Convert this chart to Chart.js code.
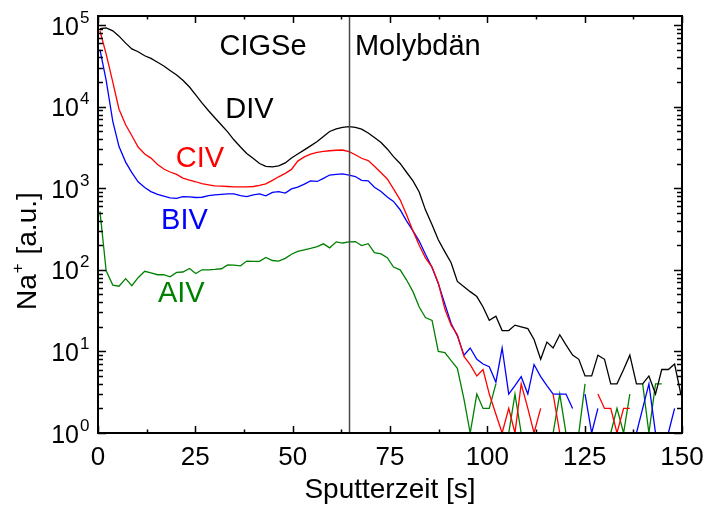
<!DOCTYPE html>
<html lang="de">
<head>
<meta charset="UTF-8">
<title>Na+ Tiefenprofil</title>
<script src="https://cdn.jsdelivr.net/npm/chart.js"></script>
<style>
  html, body { margin: 0; padding: 0; background: #fff; }
  #wrap { width: 705px; height: 508px; }
</style>
</head>
<body>
<div id="wrap"><canvas id="profil" width="705" height="508"></canvas></div>
<script>
// Sputterzeit [s]
const zeit = [0.5, 2.1, 3.8, 5.4, 7.1, 8.7, 10.3, 12.0, 13.6, 15.3,
  16.9, 18.5, 20.2, 21.8, 23.5, 25.1, 26.7, 28.4, 30.0, 31.7,
  33.3, 34.9, 36.6, 38.2, 39.9, 41.5, 43.1, 44.8, 46.4, 48.1,
  49.7, 51.3, 53.0, 54.6, 56.3, 57.9, 59.5, 61.2, 62.8, 64.5,
  66.1, 67.7, 69.4, 71.0, 72.7, 74.3, 75.9, 77.6, 79.2, 80.9,
  82.5, 84.1, 85.8, 87.4, 89.1, 90.7, 92.3, 94.0, 95.6, 97.3,
  98.9, 100.5, 102.2, 103.8, 105.5, 107.1, 108.7, 110.4, 112.0, 113.7,
  115.3, 116.9, 118.6, 120.2, 121.9, 123.5, 125.1, 126.8, 128.4, 130.1,
  131.7, 133.3, 135.0, 136.6, 138.3, 139.9, 141.5, 143.2, 144.8, 146.5,
  148.1, 149.7];

// Na+ Signal [a.u.], null = kein Signal (log)
const DIV = [90000, 92000, 85000, 73000, 60000, 51000, 47000, 42000, 39000, 35000,
  31500, 27700, 24400, 21000, 17400, 13900, 11100, 8900, 7300, 5960,
  4900, 3920, 3200, 2670, 2320, 2010, 1850, 1830, 1880, 2040,
  2350, 2630, 2950, 3300, 3740, 4310, 4960, 5330, 5560, 5700,
  5560, 5300, 4760, 4190, 3640, 3030, 2440, 2010, 1580, 1230,
  900, 543, 356, 233, 166, 122, 72, 62, 54, 47,
  35, 24, 27, 18, 18, 21, 20, 19, 14, 8,
  13, 11, 16, 12, 9, 8, 5, 5, 9, 8,
  4, 4, 6, 9, 4, 4, 5, 3, 6, 6,
  7, 3];

const CIV = [85000, 44000, 20000, 9300, 6000, 4400, 3200, 2630, 2340, 1950,
  1720, 1580, 1480, 1330, 1260, 1200, 1135, 1100, 1070, 1060,
  1050, 1040, 1040, 1040, 1050, 1080, 1130, 1250, 1380, 1520,
  1700, 2150, 2420, 2620, 2750, 2830, 2880, 2920, 2940, 2800,
  2570, 2330, 2180, 1860, 1550, 1300, 980, 720, 480, 300,
  200, 140, 108, 69, 33, 21, 16, 8.7, 6.9, 5,
  6, 3, 1.7, 1, 2, 1, 4, 2, 1, 2,
  null, 3, 1, null, null, null, null, null, 3, 2,
  2, 1, 2, 2, null, null, null, null, null, null,
  null, null];

const BIV = [50000, 21000, 6600, 3240, 2090, 1550, 1200, 1020, 910, 840,
  800, 760, 750, 790, 785, 770, 775, 810, 830, 840,
  850, 850, 810, 790, 830, 850, 805, 890, 910, 870,
  980, 1030, 1120, 1230, 1210, 1320, 1450, 1480, 1500, 1450,
  1390, 1250, 1230, 1030, 910, 780, 690, 545, 400, 300,
  225, 155, 107, 68, 38, 22, 15.5, 9, 11, 8,
  7, 6.5, 4.2, 11, 3, 3.8, 4.9, 3, 6.9, 4.9,
  3.8, 3, 3, 3, 2, null, 3, 1, 2, null,
  null, null, null, null, 1, 2, 4, 1, null, 1,
  2, null];

const AIV = [520, 97, 65, 63, 78, 64, 80, 96, 92, 87,
  87, 82, 93, 94, 104, 90, 100, 100, 101, 103,
  115, 114, 112, 128, 127, 127, 142, 130, 128, 138,
  155, 168, 176, 183, 192, 208, 186, 220, 213, 220,
  222, 198, 209, 162, 157, 141, 108, 100, 76, 54,
  35, 26, 24, 10, 9.7, 7.7, 6.2, 2.6, 1, 3,
  2, 2, 4, null, 1, 3, 1, null, null, null,
  null, 1, 3, 1, 1, 1, 4, null, null, null,
  1, 2, 1, 3, null, 4, 1, 4, 4, null,
  null, null];

const xTicks = [0, 25, 50, 75, 100, 125, 150];
const yExponenten = [0, 1, 2, 3, 4, 5];
const yMin = 1, yMax = 129000;
const molyGrenze = 64.6;

const schrift = "'Liberation Sans', Arial, Helvetica, sans-serif";

// Beschriftungen im Diagramm (Zeit, Signal)
const texte = [
  { text: 'CIGSe', t: 42.4, wert: 43000, farbe: '#000000', align: 'center' },
  { text: 'Molybdän', t: 66.0, wert: 43000, farbe: '#000000', align: 'left' },
  { text: 'DIV', t: 38.9, wert: 7260, farbe: '#000000', align: 'center' },
  { text: 'CIV', t: 26.2, wert: 1820, farbe: '#ff0000', align: 'center' },
  { text: 'BIV', t: 22.2, wert: 318, farbe: '#0000ff', align: 'center' },
  { text: 'AIV', t: 21.4, wert: 40.5, farbe: '#008000', align: 'center' }
];

function punkte(werte) {
  return zeit.map((t, i) => ({ x: t, y: werte[i] }));
}

const rahmen = {
  id: 'rahmen',
  afterDraw(chart) {
    const { ctx, chartArea: a, scales: { x, y } } = chart;
    ctx.save();
    ctx.strokeStyle = '#000';
    ctx.lineWidth = 1.5;
    ctx.beginPath();
    // x-Ticks innen, oben und unten
    for (let v = 0; v <= 150; v += 12.5) {
      const px = Math.round(x.getPixelForValue(v)) + 0.5;
      const len = v % 25 === 0 ? 7 : 3.5;
      ctx.moveTo(px, a.bottom); ctx.lineTo(px, a.bottom - len);
      ctx.moveTo(px, a.top); ctx.lineTo(px, a.top + len);
    }
    // y-Ticks innen, links und rechts
    for (const e of yExponenten) {
      for (let k = 1; k <= 9; k++) {
        const v = k * Math.pow(10, e);
        if (v > yMax) break;
        const py = Math.round(y.getPixelForValue(v)) + 0.5;
        const len = k === 1 ? 8 : 5;
        ctx.moveTo(a.left, py); ctx.lineTo(a.left + len, py);
        ctx.moveTo(a.right, py); ctx.lineTo(a.right - len, py);
      }
    }
    ctx.stroke();

    ctx.lineWidth = 2;
    ctx.strokeRect(a.left, a.top, a.right - a.left, a.bottom - a.top);

    // y-Tickbeschriftung 10^n
    ctx.fillStyle = '#000';
    ctx.textBaseline = 'alphabetic';
    for (const e of yExponenten) {
      const py = y.getPixelForValue(Math.pow(10, e));
      ctx.font = `25px ${schrift}`;
      ctx.textAlign = 'right';
      ctx.fillText('10', 79, py + 9.5);
      ctx.font = `17px ${schrift}`;
      ctx.textAlign = 'left';
      ctx.fillText(String(e), 80, py - 2.5);
    }

    // y-Achsentitel Na+ [a.u.]
    ctx.save();
    ctx.translate(36, 310);
    ctx.rotate(-Math.PI / 2);
    ctx.textAlign = 'left';
    ctx.font = `28px ${schrift}`;
    ctx.fillText('Na', 0, 0);
    let w = ctx.measureText('Na').width;
    ctx.font = `17px ${schrift}`;
    ctx.fillText('+', w + 1, -13);
    w += ctx.measureText('+').width + 2;
    ctx.font = `28px ${schrift}`;
    ctx.fillText(' [a.u.]', w, 0);
    ctx.restore();

    // Beschriftungen
    ctx.font = `29px ${schrift}`;
    for (const b of texte) {
      ctx.fillStyle = b.farbe;
      ctx.textAlign = b.align;
      ctx.fillText(b.text, x.getPixelForValue(b.t), y.getPixelForValue(b.wert));
    }
    ctx.restore();
  }
};

const linie = { pointRadius: 0, borderWidth: 1.3, tension: 0, spanGaps: false, fill: false };

new Chart(document.getElementById('profil'), {
  type: 'line',
  data: {
    datasets: [
      { ...linie, label: 'Grenze', data: [{ x: molyGrenze, y: yMin }, { x: molyGrenze, y: yMax }], borderColor: '#4a4a4a', borderWidth: 1.5 },
      { ...linie, label: 'DIV', data: punkte(DIV), borderColor: '#000000' },
      { ...linie, label: 'CIV', data: punkte(CIV), borderColor: '#ff0000' },
      { ...linie, label: 'BIV', data: punkte(BIV), borderColor: '#0000ff' },
      { ...linie, label: 'AIV', data: punkte(AIV), borderColor: '#008000' }
    ]
  },
  options: {
    responsive: false,
    animation: false,
    layout: { padding: { left: 0, top: 16, right: 23, bottom: 0 } },
    plugins: { legend: { display: false }, tooltip: { enabled: false } },
    scales: {
      x: {
        type: 'linear', min: 0, max: 150,
        grid: { display: false, drawTicks: false },
        border: { display: false },
        afterBuildTicks(s) { s.ticks = xTicks.map(v => ({ value: v })); },
        ticks: { autoSkip: false, maxRotation: 0, padding: 9, color: '#000', font: { family: schrift, size: 26 } },
        title: { display: true, text: 'Sputterzeit [s]', color: '#000', font: { family: schrift, size: 28, lineHeight: 1 }, padding: { top: 0, bottom: 4 } },
        afterFit(s) { s.height = 75; s.paddingLeft = 0; s.paddingRight = 0; }
      },
      y: {
        type: 'logarithmic', min: yMin, max: yMax,
        grid: { display: false, drawTicks: false },
        border: { display: false },
        ticks: { display: false },
        afterFit(s) { s.width = 98; s.paddingTop = 0; s.paddingBottom = 0; }
      }
    }
  },
  plugins: [rahmen]
});
</script>
</body>
</html>
